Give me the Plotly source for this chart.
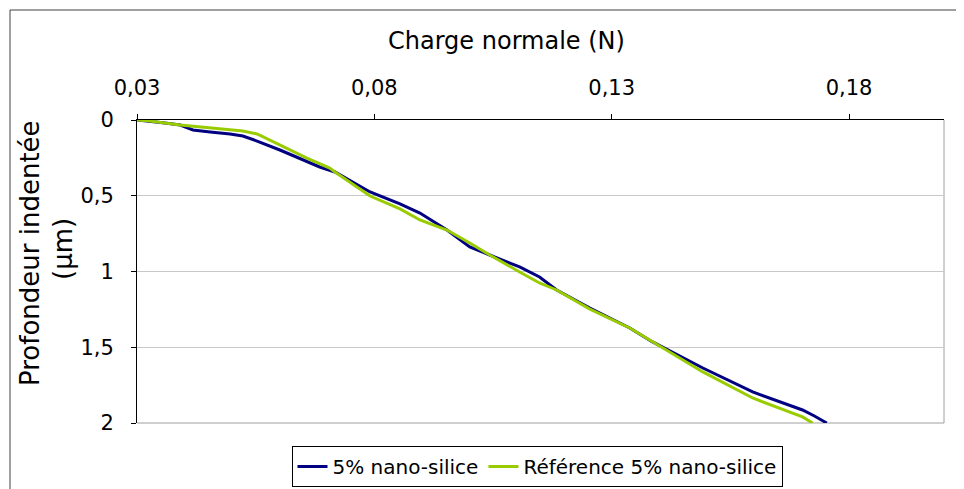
import plotly.graph_objects as go

# ---- data ----
series_names = ["5% nano-silice", "Référence 5% nano-silice"]

blue_x = [0.03, 0.0327, 0.0359, 0.0391, 0.0418, 0.0454, 0.0496, 0.0523, 0.0553, 0.0601,
          0.0658, 0.0685, 0.0717, 0.0791, 0.0854, 0.0896, 0.0953, 0.1001, 0.1043, 0.1106,
          0.1148, 0.1184, 0.1254, 0.1338, 0.1386, 0.1492, 0.1597, 0.1702, 0.1727, 0.1753]
blue_y = [0, 0.007, 0.020, 0.033, 0.066, 0.079, 0.092, 0.106, 0.139, 0.198,
          0.277, 0.310, 0.343, 0.475, 0.554, 0.614, 0.726, 0.838, 0.891, 0.970,
          1.036, 1.122, 1.241, 1.373, 1.465, 1.637, 1.795, 1.914, 1.954, 2.0]

green_x = [0.03, 0.0327, 0.0391, 0.0454, 0.0523, 0.0553, 0.0601, 0.0658, 0.0706, 0.0717,
           0.0791, 0.0854, 0.0896, 0.0953, 0.1001, 0.1043, 0.1106, 0.1148, 0.1184, 0.1254,
           0.1338, 0.1386, 0.1492, 0.1597, 0.1702, 0.1723]
green_y = [0, 0.007, 0.033, 0.053, 0.073, 0.092, 0.165, 0.251, 0.317, 0.343,
           0.502, 0.587, 0.660, 0.726, 0.812, 0.891, 1.003, 1.076, 1.122, 1.248,
           1.373, 1.465, 1.663, 1.835, 1.960, 2.0]

x_tickvals = [0.03, 0.08, 0.13, 0.18]
x_ticktext = ["0,03", "0,08", "0,13", "0,18"]
y_tickvals = [0, 0.5, 1, 1.5, 2]
y_ticktext = ["0", "0,5", "1", "1,5", "2"]

x_title = "Charge normale (N)"
y_title_1 = "Profondeur indentée"
y_title_2 = "(µm)"

# ---- layout geometry (screen pixels; page body adds an 8px offset) ----
OFF = 8
W, H = 964, 489
PL, PR, PT, PB = 137, 944, 120, 423          # plot area on screen
L = PL - OFF
T = PT - OFF
R = W - (PR - OFF)
B = H - (PB - OFF)
PW, PH = PR - PL, PB - PT


def px(p):
    return (p - PL) / PW


def py(p):
    return (PB - p) / PH


FONT = "DejaVu Sans"

fig = go.Figure()
fig.add_trace(go.Scatter(x=blue_x, y=blue_y, mode="lines", name=series_names[0],
                         line=dict(color="#000080", width=3)))
fig.add_trace(go.Scatter(x=green_x, y=green_y, mode="lines", name=series_names[1],
                         line=dict(color="#99CC00", width=3)))

fig.update_layout(
    width=W, height=H,
    margin=dict(l=L, r=R, t=T, b=B, autoexpand=False),
    paper_bgcolor="white", plot_bgcolor="white",
    font=dict(family=FONT, size=21, color="black"),
    showlegend=True,
    legend=dict(orientation="h", x=px(537), xanchor="center", y=py(487), yanchor="bottom",
                bordercolor="black", borderwidth=1, bgcolor="white",
                font=dict(family=FONT, size=20, color="black"),
                itemwidth=30, tracegroupgap=0),
    xaxis=dict(side="top", range=[0.03, 0.2], tickvals=x_tickvals, ticktext=x_ticktext,
               showline=True, linecolor="black", linewidth=1,
               ticks="outside", ticklen=5, tickcolor="black",
               showgrid=False, zeroline=False, ticklabelstandoff=11, automargin=False,
               tickfont=dict(family=FONT, size=21, color="black")),
    yaxis=dict(range=[2, 0], tickvals=y_tickvals, ticktext=y_ticktext,
               showline=True, linecolor="black", linewidth=1,
               ticks="outside", ticklen=5, tickcolor="black",
               showgrid=True, gridcolor="#c8c8c8", gridwidth=1, zeroline=False,
               ticklabelstandoff=13, automargin=False,
               tickfont=dict(family=FONT, size=21, color="black")),
    shapes=[
        # outer chart frame
        dict(type="rect", xref="paper", yref="paper", x0=px(10), x1=px(1030), y0=py(10), y1=py(530),
             line=dict(color="#404040", width=1), layer="below"),
        # right and bottom plot-area borders (gray)
        dict(type="line", xref="paper", yref="paper", x0=1, x1=1, y0=0, y1=1,
             line=dict(color="#a0a0a0", width=1), layer="below"),
        dict(type="line", xref="paper", yref="paper", x0=0, x1=1, y0=0, y1=0,
             line=dict(color="#a0a0a0", width=1), layer="below"),
    ],
    annotations=[
        dict(text=x_title, xref="paper", yref="paper", x=px(506), y=py(41),
             xanchor="center", yanchor="middle", showarrow=False,
             font=dict(family=FONT, size=24, color="black")),
        dict(text=y_title_1, xref="paper", yref="paper", x=px(30), y=py(253),
             xanchor="center", yanchor="middle", showarrow=False, textangle=-90,
             font=dict(family=FONT, size=26, color="black")),
        dict(text=y_title_2, xref="paper", yref="paper", x=px(63), y=py(249),
             xanchor="center", yanchor="middle", showarrow=False, textangle=-90,
             font=dict(family=FONT, size=26, color="black")),
    ],
)

fig.write_html("out.html")
